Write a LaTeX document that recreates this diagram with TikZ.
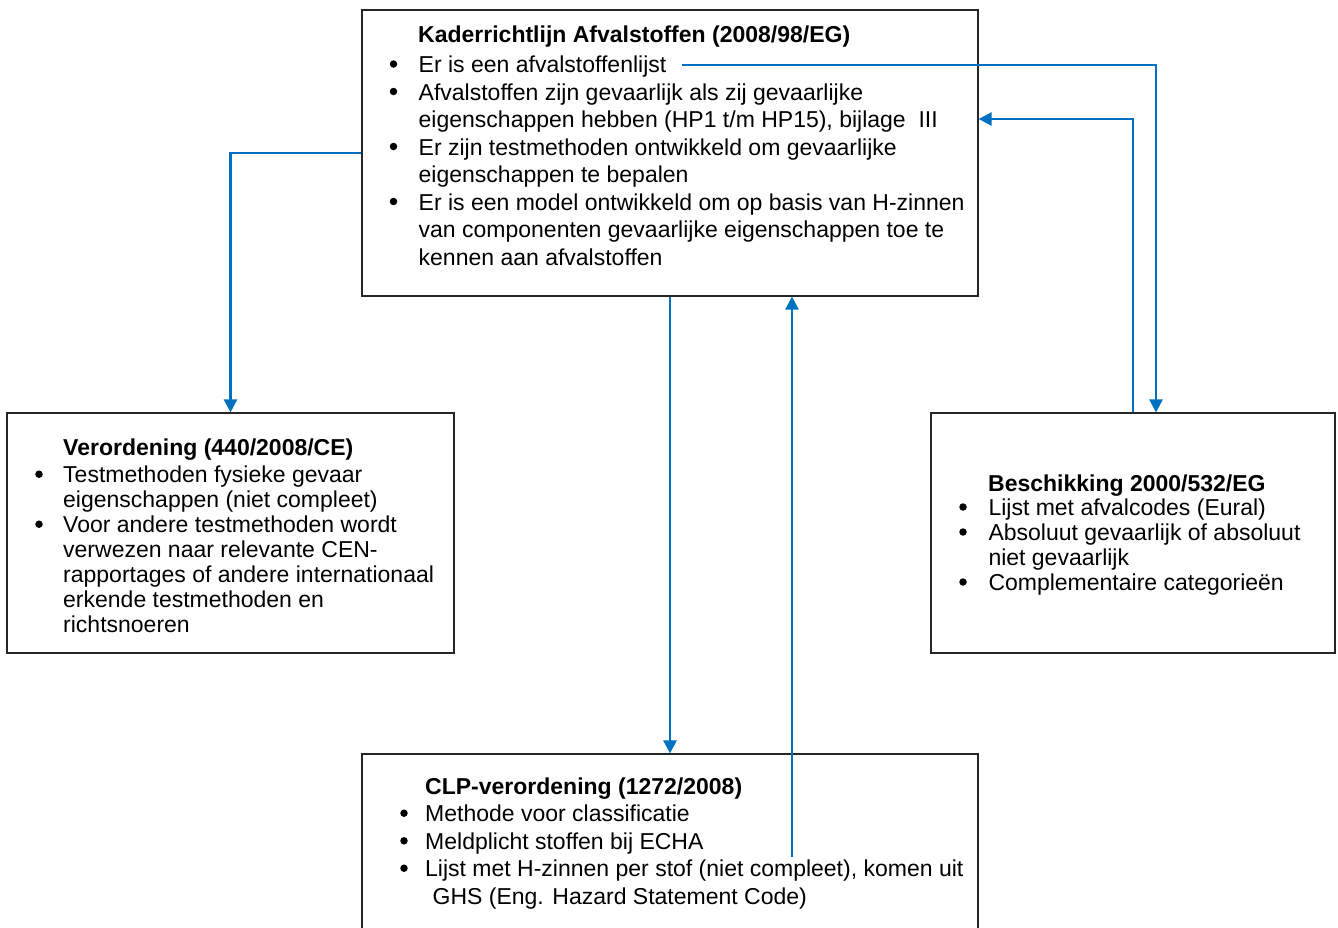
\documentclass[tikz,border=0pt]{standalone}
\usepackage{fontspec}
\setmainfont{Liberation Sans}
\usetikzlibrary{arrows.meta}
\definecolor{lineblue}{HTML}{0070C0}
\begin{document}
\begin{tikzpicture}[x=1pt,y=-1pt,
  box/.style={draw=black!85,line width=1.2pt,inner sep=0pt,rectangle},
  txt/.style={anchor=base west,inner sep=0pt,font=\fontsize{23}{27.5}\selectfont},
  ttl/.style={txt,font=\fontsize{23}{27.5}\selectfont\bfseries},
  bul/.style={circle,fill=black,inner sep=0pt,minimum size=7.5pt,yshift=8.5pt},
  conn/.style={draw=lineblue,line width=2.6pt},
  arr/.style={conn,-{Triangle[length=13pt,width=13pt]}}]
\useasboundingbox (0,0) rectangle (1338,927);
\fill[white] (0,0) rectangle (1338,927);
% boxes
\node[box,minimum width=616pt,minimum height=286pt] (top) at (670,153) {};
\node[box,minimum width=447pt,minimum height=240pt] (left) at (230.5,533) {};
\node[box,minimum width=404pt,minimum height=240pt] (right) at (1133,533) {};
\node[box,minimum width=616pt,minimum height=190pt] (bottom) at (670,849) {};
% top box text
\node[ttl] (t0) at (418,42.5) {Kaderrichtlijn Afvalstoffen (2008/98/EG)};
\node[bul] (tb1) at (393.5,72.5) {};
\node[bul] (tb2) at (393.5,100) {};
\node[bul] (tb3) at (393.5,155) {};
\node[bul] (tb4) at (393.5,210) {};
\node[txt] (t1) at (418.5,72.5) {Er is een afvalstoffenlijst};
\node[txt] (t2) at (418.5,100) {Afvalstoffen zijn gevaarlijk als zij gevaarlijke};
\node[txt] (t3) at (418.5,127.5) {eigenschappen hebben (HP1 t/m HP15), bijlage\ \ III};
\node[txt] (t4) at (418.5,155) {Er zijn testmethoden ontwikkeld om gevaarlijke};
\node[txt] (t5) at (418.5,182.5) {eigenschappen te bepalen};
\node[txt] (t6) at (418.5,210) {Er is een model ontwikkeld om op basis van H-zinnen};
\node[txt] (t7) at (418.5,237.5) {van componenten gevaarlijke eigenschappen toe te};
\node[txt] (t8) at (418.5,265) {kennen aan afvalstoffen};
% left box text
\node[ttl] (l0) at (63,455) {Verordening (440/2008/CE)};
\node[bul] (lb1) at (39,482.7) {};
\node[bul] (lb2) at (39,532.7) {};
\node[txt] (l1) at (63,482.7) {Testmethoden fysieke gevaar};
\node[txt] (l2) at (63,507.7) {eigenschappen (niet compleet)};
\node[txt] (l3) at (63,532.7) {Voor andere testmethoden wordt};
\node[txt] (l4) at (63,557.5) {verwezen naar relevante CEN-};
\node[txt] (l5) at (63,582.5) {rapportages of andere internationaal};
\node[txt] (l6) at (63,607) {erkende testmethoden en};
\node[txt] (l7) at (63,632) {richtsnoeren};
% right box text
\node[ttl] (r0) at (988,491.5) {Beschikking 2000/532/EG};
\node[bul] (rb1) at (963,515.5) {};
\node[bul] (rb2) at (963,540.5) {};
\node[bul] (rb3) at (963,590.5) {};
\node[txt] (r1) at (988.3,515.5) {Lijst met afvalcodes (Eural)};
\node[txt] (r2) at (988.3,540.5) {Absoluut gevaarlijk of absoluut};
\node[txt] (r3) at (988.3,565.5) {niet gevaarlijk};
\node[txt] (r4) at (988.3,590.5) {Complementaire categorieën};
% bottom box text
\node[ttl] (b0) at (425,794) {CLP-verordening (1272/2008)};
\node[bul] (bb1) at (404,821.7) {};
\node[bul] (bb2) at (404,849.3) {};
\node[bul] (bb3) at (404,876.7) {};
\node[txt] (b1) at (425,821.7) {Methode voor classificatie};
\node[txt] (b2) at (425,849.3) {Meldplicht stoffen bij ECHA};
\node[txt] (b3) at (425,876.7) {Lijst met H-zinnen per stof (niet compleet), komen uit};
\node[txt] (b4) at (432.5,904) {GHS (Eng. Hazard Statement Code)};
% connectors
\coordinate (s2) at (682,65);
\coordinate (s5) at (792,857);
\draw[arr] (top.west) -| (left.north);
\draw[arr] (s2) -| ([xshift=23pt]right.north);
\draw[arr] (right.north) |- (top.east |- 0,119);
\draw[arr] (top.south) -- (bottom.north);
\draw[arr] (s5) -- (top.south -| s5);
\end{tikzpicture}
\end{document}
